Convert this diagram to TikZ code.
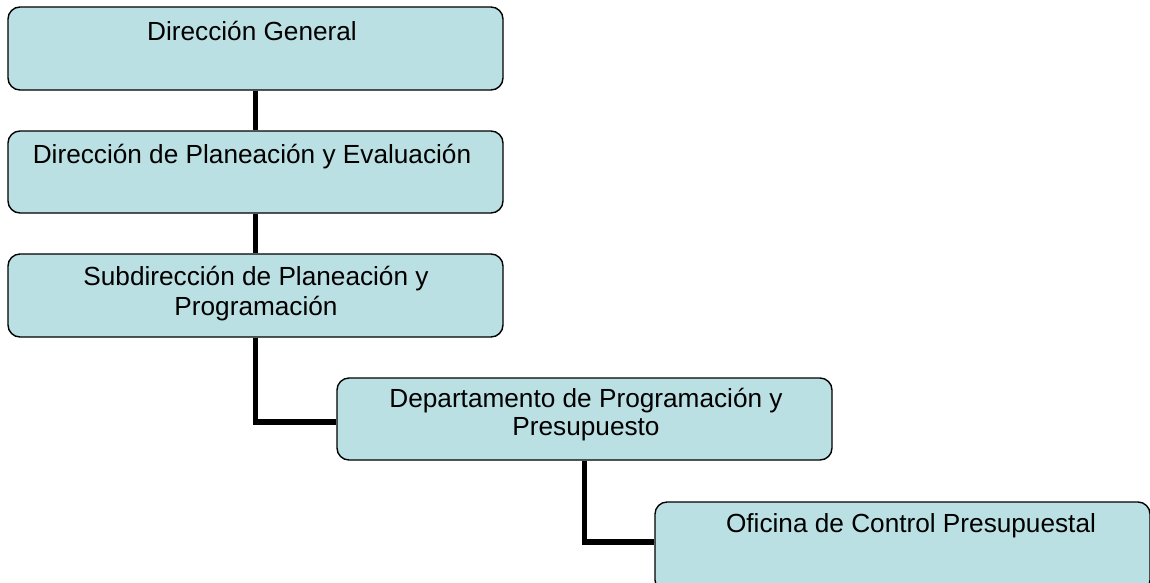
\documentclass[tikz,border=0pt]{standalone}
\usepackage{fontspec}
\setmainfont{Liberation Sans}
\definecolor{boxfill}{RGB}{186,224,227}
\begin{document}
\begin{tikzpicture}[x=1pt,y=-1pt,
  orgbox/.style={draw=black, line width=1.4pt, fill=boxfill, rounded corners=12pt,
    minimum width=495pt, inner sep=0pt, rectangle},
  conn/.style={draw=black, line width=5.5pt},
  lbl/.style={anchor=base, inner sep=0pt, font=\fontsize{26.2}{30}\selectfont, align=center}]
\useasboundingbox (0,0) rectangle (1150,582);
\clip (0,0) rectangle (1150,582);
\fill[white] (0,0) rectangle (1150,582);
% box geometry
\path (255.5,48.5) node[orgbox, minimum height=83pt, draw=none, fill=none] (b1) {};
\path (255.5,172) node[orgbox, minimum height=82pt, draw=none, fill=none] (b2) {};
\path (255.5,295.5) node[orgbox, minimum height=83pt, draw=none, fill=none] (b3) {};
\path (584.5,419) node[orgbox, minimum height=82pt, draw=none, fill=none] (b4) {};
\path (902.5,547) node[orgbox, minimum height=90pt, draw=none, fill=none] (b5) {};
% connectors
\draw[conn] (b1.south) -- (b2.north);
\draw[conn] (b2.south) -- (b3.north);
\draw[conn] (b3.south) |- ([yshift=-3pt]b4.west);
\draw[conn] (b4.south) |- ([yshift=5pt]b5.west);
% boxes
\node[orgbox, minimum height=83pt] (B1) at (b1) {};
\node[orgbox, minimum height=82pt] (B2) at (b2) {};
\node[orgbox, minimum height=83pt] (B3) at (b3) {};
\node[orgbox, minimum height=82pt] (B4) at (b4) {};
\node[orgbox, minimum height=90pt] (B5) at (b5) {};
% labels
\node[lbl] (t1) at (252,40) {Dirección General};
\node[lbl] (t2) at (252,163) {Dirección de Planeación y Evaluación};
\node[lbl] (t3a) at (256,285) {Subdirección de Planeación y};
\node[lbl] (t3b) at (256,315) {Programación};
\node[lbl] (t4a) at (586,407) {Departamento de Programación y};
\node[lbl] (t4b) at (586,435) {Presupuesto};
\node[lbl] (t5) at (911,532) {Oficina de Control Presupuestal};
\end{tikzpicture}
\end{document}
